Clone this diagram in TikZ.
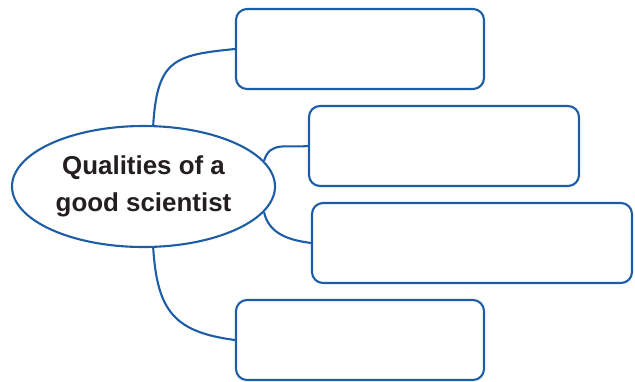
\documentclass[tikz,border=0pt]{standalone}
\usepackage{fontspec}
\setmainfont{Liberation Sans}
\usepackage{xcolor}
\usepackage{tikz}
\usetikzlibrary{shapes.geometric}
\definecolor{mapblue}{HTML}{1D5DA5}
\definecolor{textdark}{HTML}{231F20}

\begin{document}
\begin{tikzpicture}[x=1bp,y=-1bp,
    mapline/.style={draw=mapblue,line width=2.1bp},
    answerbox/.style={mapline,rounded corners=11bp,inner sep=0pt},
    centre/.style={mapline,ellipse,inner sep=0pt,minimum width=263bp,minimum height=121bp,
      align=center,text=textdark,font=\fontsize{26}{37}\selectfont\bfseries}]
    \useasboundingbox (0,0) rectangle (635,381);
    \node[centre] (qual) at (143.5,186.5) {Qualities of a\\good scientist};
    \node[answerbox,minimum width=248bp,minimum height=80bp] (box1) at (360,49) {};
    \node[answerbox,minimum width=270bp,minimum height=80bp] (box2) at (444,146) {};
    \node[answerbox,minimum width=320bp,minimum height=80bp] (box3) at (472,243) {};
    \node[answerbox,minimum width=248bp,minimum height=80bp] (box4) at (360,340) {};
    \draw[mapline] (qual.81) .. controls +(4,-66) and +(-60,6) .. (box1.west);
    \draw[mapline] (qual.12) .. controls +(6,-20) and +(-22,2) .. (box2.west);
    \draw[mapline] (qual.-12) .. controls +(5,22) and +(-22,-3) .. (box3.west);
    \draw[mapline] (qual.-81) .. controls +(4,64) and +(-60,-8) .. (box4.west);
  \end{tikzpicture}
\end{document}
